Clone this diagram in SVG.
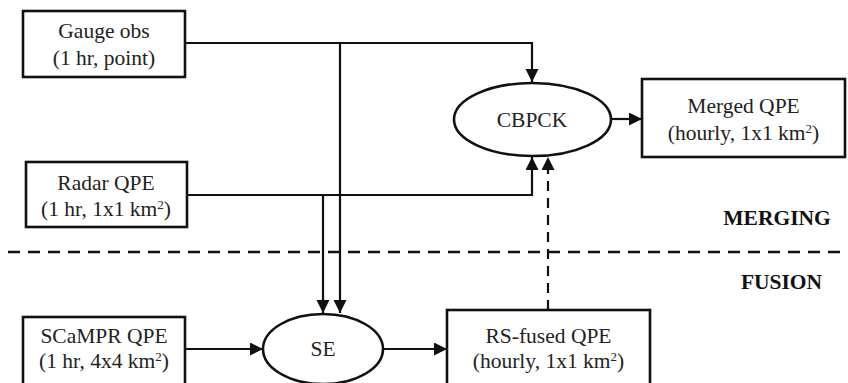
<svg xmlns="http://www.w3.org/2000/svg" width="848" height="383" viewBox="0 0 848 383">
<style>
.box{fill:#fff;stroke:#111;stroke-width:2.6}
.ell{fill:#fff;stroke:#111;stroke-width:2.6}
.t{font-family:'Liberation Serif','Times New Roman',serif;font-size:21.5px;fill:#222;text-anchor:middle}
.b{font-weight:bold;fill:#111}
.sup{font-size:13px}
.ln{fill:none;stroke:#111;stroke-width:2.2}
.dash{fill:none;stroke:#111;stroke-width:2.4;stroke-dasharray:12 8}
.vdash{fill:none;stroke:#111;stroke-width:2.2;stroke-dasharray:10 7}
</style>
<defs>
<marker id="ah" markerUnits="userSpaceOnUse" markerWidth="14" markerHeight="14" refX="13" refY="6.5" orient="auto">
<path d="M0,0 L13,6.5 L0,13 z" fill="#111"/>
</marker>
</defs>
<g id="connectors">
<path class="ln" d="M185,43 H532 V82" marker-end="url(#ah)"/>
<path class="ln" d="M340,43 V313" marker-end="url(#ah)"/>
<path class="ln" d="M187,195 H532 V157" marker-end="url(#ah)"/>
<path class="ln" d="M323,195 V313" marker-end="url(#ah)"/>
<path class="ln" d="M185,349 H263" marker-end="url(#ah)"/>
<path class="ln" d="M383,349 H447" marker-end="url(#ah)"/>
<path class="ln" d="M611,119 H642" marker-end="url(#ah)"/>
<path class="vdash" d="M548,310 V157" marker-end="url(#ah)"/>
</g>
<path class="dash" d="M8,252 H848"/>
<g id="gauge">
<rect class="box" x="23" y="11" width="162" height="66"/>
<text class="t" x="104" y="38">Gauge obs</text>
<text class="t" x="104" y="65">(1 hr, point)</text>
</g>
<g id="radar">
<rect class="box" x="26" y="162" width="161" height="65"/>
<text class="t" x="106" y="190">Radar QPE</text>
<text class="t" x="106" y="216">(1 hr, 1x1 km<tspan class="sup" dy="-7">2</tspan><tspan dy="7">)</tspan></text>
</g>
<g id="scampr">
<rect class="box" x="23" y="317" width="162" height="68"/>
<text class="t" x="104" y="343">SCaMPR QPE</text>
<text class="t" x="104" y="368">(1 hr, 4x4 km<tspan class="sup" dy="-7">2</tspan><tspan dy="7">)</tspan></text>
</g>
<g id="cbpck">
<ellipse class="ell" cx="532.5" cy="119.5" rx="78.5" ry="36.5"/>
<text class="t" x="532" y="127">CBPCK</text>
</g>
<g id="merged">
<rect class="box" x="642" y="79" width="203" height="78"/>
<text class="t" x="743.5" y="113">Merged QPE</text>
<text class="t" x="743.5" y="140">(hourly, 1x1 km<tspan class="sup" dy="-7">2</tspan><tspan dy="7">)</tspan></text>
</g>
<g id="se">
<ellipse class="ell" cx="323" cy="349" rx="60" ry="35"/>
<text class="t" x="323" y="356">SE</text>
</g>
<g id="rsfused">
<rect class="box" x="447" y="310" width="203" height="76"/>
<text class="t" x="548.5" y="343">RS-fused QPE</text>
<text class="t" x="548.5" y="368">(hourly, 1x1 km<tspan class="sup" dy="-7">2</tspan><tspan dy="7">)</tspan></text>
</g>
<text class="t b" x="777" y="225">MERGING</text>
<text class="t b" x="781.5" y="289">FUSION</text>
</svg>
